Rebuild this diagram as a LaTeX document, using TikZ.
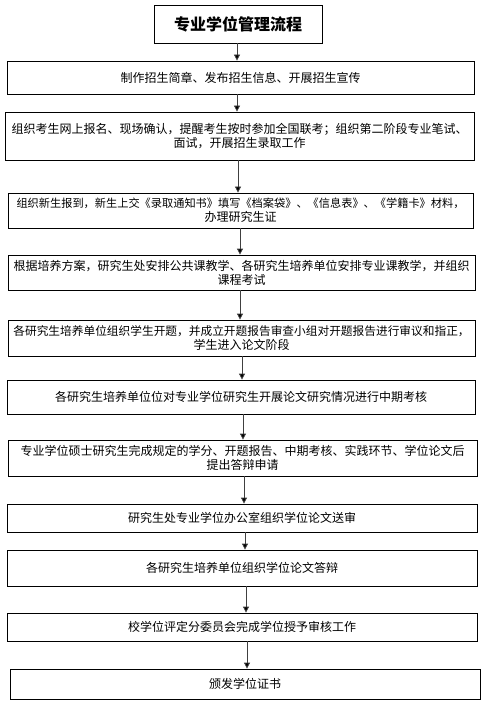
\documentclass[tikz,border=0pt]{standalone}
\usepackage{fontspec}
\setmainfont{Noto Sans CJK SC}
\usetikzlibrary{arrows.meta}
\tikzset{
  stepbox/.style={draw=black, line width=0.8pt, inner sep=0pt, align=center,
    font=\fontsize{12}{14}\selectfont},
  titlebox/.style={draw=black, line width=0.9pt, inner sep=0pt, align=center,
    font=\fontsize{16}{18}\selectfont\bfseries},
  arr/.style={draw=black!75, line width=0.8pt, -{Triangle[length=6pt,width=6pt,fill=black]}}
}
\begin{document}
\begin{tikzpicture}[x=1pt,y=-1pt]
\useasboundingbox (0,0) rectangle (482,703);
\node[titlebox, minimum width=168pt, minimum height=38pt] (t) at (238,24) {专业学位管理流程};
\node[stepbox, minimum width=467pt, minimum height=33pt] (b1) at (240.5,77.5) {制作招生简章、发布招生信息、开展招生宣传};
\node[stepbox, minimum width=469pt, minimum height=48pt] (b2) at (239.5,136) {组织考生网上报名、现场确认，提醒考生按时参加全国联考；组织第二阶段专业笔试、\\面试，开展招生录取工作};
\node[stepbox, minimum width=465pt, minimum height=35pt] (b3) at (240.5,210.5) {{\fontsize{11.2}{14}\selectfont 组织新生报到，新生上交《录取通知书》填写《档案袋》、《信息表》、《学籍卡》材料，}\\办理研究生证};
\node[stepbox, minimum width=467pt, minimum height=35pt] (b4) at (241.5,272.5) {根据培养方案，研究生处安排公共课教学、各研究生培养单位安排专业课教学，并组织\\课程考试};
\node[stepbox, minimum width=467pt, minimum height=36pt] (b5) at (241.5,338) {{\fontsize{11.7}{14}\selectfont 各研究生培养单位组织学生开题，并成立开题报告审查小组对开题报告进行审议和指正，}\\学生进入论文阶段};
\node[stepbox, minimum width=468pt, minimum height=34pt] (b6) at (241,397) {各研究生培养单位位对专业学位研究生开展论文研究情况进行中期考核};
\node[stepbox, minimum width=469pt, minimum height=36pt] (b7) at (242.5,458) {专业学位硕士研究生完成规定的学分、开题报告、中期考核、实践环节、学位论文后\\提出答辩申请};
\node[stepbox, minimum width=470pt, minimum height=28pt] (b8) at (242,518) {研究生处专业学位办公室组织学位论文送审};
\node[stepbox, minimum width=470pt, minimum height=36pt] (b9) at (242,568) {各研究生培养单位组织学位论文答辩};
\node[stepbox, minimum width=470pt, minimum height=28pt] (b10) at (242,627) {校学位评定分委员会完成学位授予审核工作};
\node[stepbox, minimum width=470pt, minimum height=30pt] (b11) at (245,684) {颁发学位证书};
\coordinate (x0) at (237,0);
\coordinate (x1) at (237,0);
\coordinate (x2) at (238,0);
\coordinate (x3) at (240,0);
\coordinate (x4) at (240,0);
\coordinate (x5) at (242,0);
\coordinate (x6) at (243,0);
\coordinate (x7) at (244,0);
\coordinate (x8) at (245,0);
\coordinate (x9) at (246,0);
\coordinate (x10) at (247,0);
\draw[arr] (t.south -| x0) -- (b1.north -| x0);
\draw[arr] (b1.south -| x1) -- (b2.north -| x1);
\draw[arr] (b2.south -| x2) -- (b3.north -| x2);
\draw[arr] (b3.south -| x3) -- (b4.north -| x3);
\draw[arr] (b4.south -| x4) -- (b5.north -| x4);
\draw[arr] (b5.south -| x5) -- (b6.north -| x5);
\draw[arr] (b6.south -| x6) -- (b7.north -| x6);
\draw[arr] (b7.south -| x7) -- (b8.north -| x7);
\draw[arr] (b8.south -| x8) -- (b9.north -| x8);
\draw[arr] (b9.south -| x9) -- (b10.north -| x9);
\draw[arr] (b10.south -| x10) -- (b11.north -| x10);
\end{tikzpicture}
\end{document}
